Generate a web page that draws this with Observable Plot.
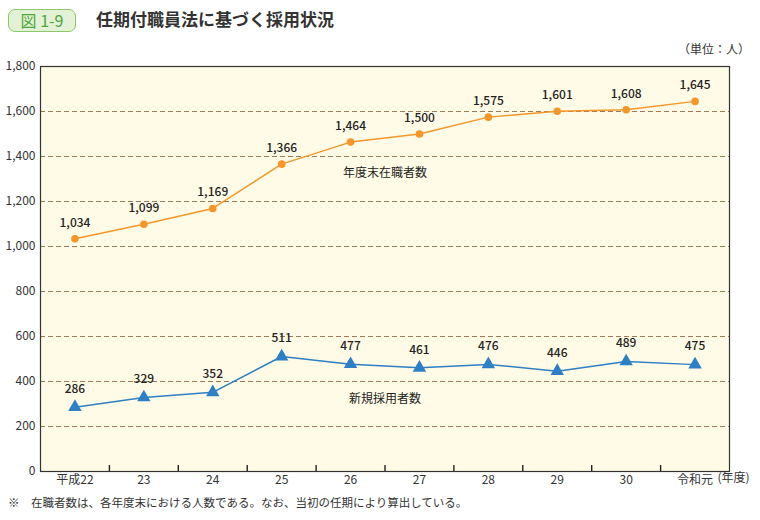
<!DOCTYPE html>
<html><head><meta charset="utf-8">
<script src="https://cdn.jsdelivr.net/npm/d3@7"></script>
<script src="https://cdn.jsdelivr.net/npm/@observablehq/plot@0.6"></script>
<style>
body{margin:0;background:#fff;font-family:"Noto Sans CJK JP","Noto Sans",sans-serif;color:#333;width:760px;}
#head{position:relative;height:50px;}
#badge{position:absolute;left:8px;top:9px;width:66px;height:21px;border:1.5px solid #8cc86a;border-radius:7px;background:#e3f2d6;color:#4fa63a;font-size:16px;line-height:21px;text-align:center;}
#title{position:absolute;left:96px;top:7px;font-size:17px;font-weight:bold;color:#333;line-height:24px;}
#unit{position:absolute;right:10px;top:40px;font-size:12px;line-height:18px;z-index:2;}
#foot{font-size:11.5px;line-height:18px;padding-left:8px;}
</style></head>
<body>
<div id="head"><div id="badge">図 1-9</div><div id="title">任期付職員法に基づく採用状況</div><div id="unit">（単位：人）</div></div>
<div id="chart"></div>
<div id="foot">※　在職者数は、各年度末における人数である。なお、当初の任期により算出している。</div>
<script>
const years = ["平成22","23","24","25","26","27","28","29","30","令和元"];
const staff = [1034,1099,1169,1366,1464,1500,1575,1601,1608,1645];
const hires = [286,329,352,511,477,461,476,446,489,475];
const yTicks = [0,200,400,600,800,1000,1200,1400,1600,1800];
const seriesLabels = [{name:"年度末在職者数", i:4.5, v:1324},{name:"新規採用者数", i:4.5, v:320}];

const sData = staff.map((v,i)=>({i,v}));
const hData = hires.map((v,i)=>({i,v}));
const orange = "#f4962a", blue = "#2f7fc4";
const fmt = d3.format(",");
const font = "Noto Sans CJK JP, Noto Sans, sans-serif";

const W = 760, H = 443, mT = 16, mB = 22, tickLen = 6;
const yMax = 1800;
const tickTop = yMax * tickLen / (H - mT - mB);
const boundaryTicks = d3.range(1, years.length).map(i => ({bx: i - 0.5, y1: 0, y2: tickTop}));

const chart = Plot.plot({
  width: W, height: H,
  marginLeft: 40, marginRight: 31, marginTop: mT, marginBottom: mB,
  style: {fontFamily: font, fontSize: "12px", color: "#333", background: "transparent", overflow: "visible"},
  x: {type: "linear", domain: [-0.5, years.length - 0.5], axis: null, label: null},
  y: {domain: [0, yMax], axis: null, label: null},
  marks: [
    Plot.frame({fill: "#fffbe6", stroke: "none"}),
    Plot.gridY(yTicks.filter(t=>t>0 && t<yMax), {stroke: "#a07a58", strokeOpacity: 1, strokeDasharray: "5,3", strokeWidth: 1}),
    Plot.ruleX(boundaryTicks, {x: "bx", y1: "y1", y2: "y2", stroke: "#222", strokeWidth: 1.4}),
    Plot.frame({stroke: "#333", strokeWidth: 1.2}),
    Plot.axisY(yTicks, {tickSize: 0, tickPadding: 5, tickFormat: fmt, fontSize: 12, fill: "#333", label: null}),
    Plot.axisX(d3.range(years.length), {tickSize: 0, tickPadding: 4, tickFormat: i=>years[i], fontSize: 12, fill: "#333", label: null}),
    Plot.text(["(年度)"], {x: years.length - 0.5, frameAnchor: "bottom", dx: -12, dy: 10, textAnchor: "start", fontSize: 12, fill: "#333", text: d=>d}),
    Plot.line(sData, {x: "i", y: "v", stroke: orange, strokeWidth: 1.5}),
    Plot.dot(sData, {x: "i", y: "v", fill: orange, r: 3.8, symbol: "circle"}),
    Plot.text(sData, {x: "i", y: "v", text: d=>fmt(d.v), dy: -16, fontSize: 12, fill: "#222", fontWeight: 500}),
    Plot.line(hData, {x: "i", y: "v", stroke: blue, strokeWidth: 1.5}),
    Plot.dot(hData, {x: "i", y: "v", fill: blue, r: 5, symbol: "triangle"}),
    Plot.text(hData, {x: "i", y: "v", text: d=>fmt(d.v), dy: -18, fontSize: 12, fill: "#222", fontWeight: 500}),
    Plot.text(seriesLabels, {x: "i", y: "v", text: "name", fontSize: 12, fill: "#222"})
  ]
});
document.getElementById("chart").appendChild(chart);
</script>
</body></html>
